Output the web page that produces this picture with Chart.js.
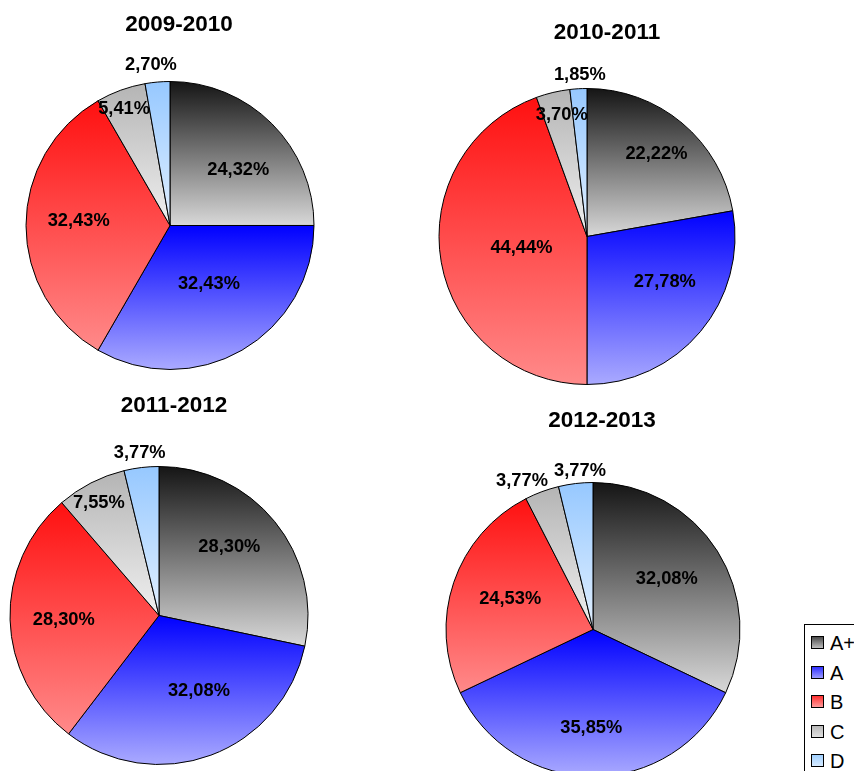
<!DOCTYPE html>
<html>
<head>
<meta charset="utf-8">
<script src="https://cdn.jsdelivr.net/npm/chart.js@4.4.0/dist/chart.umd.min.js"></script>
<style>
  html, body { margin: 0; padding: 0; background: #fff; }
  body { width: 854px; height: 771px; overflow: hidden; position: relative; font-family: "Liberation Sans", Arial, sans-serif; }
  canvas { position: absolute; }
  .title { position: absolute; font-weight: bold; font-size: 22.5px; color: #000; transform: translate(-50%, -50%); white-space: nowrap; }
  .legend { position: absolute; left: 804px; top: 624px; width: 70px; height: 160px; border: 1px solid #000; background: #fff; }
  .legend .item { position: absolute; left: 6px; height: 22px; font-size: 20px; line-height: 22px; color: #000; }
  .legend .sw { display: inline-block; width: 11px; height: 11px; border: 1px solid #000; vertical-align: middle; margin-right: 6px; position: relative; top: -2px; }
</style>
</head>
<body>
<script>
// data
const categories = ['A+', 'A', 'B', 'C', 'D']
const seasons = ['2009-2010', '2010-2011', '2011-2012', '2012-2013']
const values2009 = [24.32, 32.43, 32.43, 5.41, 2.70]
const values2010 = [22.22, 27.78, 44.44, 3.70, 1.85]
const values2011 = [28.30, 32.08, 28.30, 7.55, 3.77]
const values2012 = [32.08, 35.85, 24.53, 3.77, 3.77]

// slice gradient colours (top -> bottom)
const topColors = ['#151515', '#0000ff', '#ff1010', '#b4b4b4', '#96c8ff']
const bottomColors = ['#d8d8d8', '#aaaaff', '#ff8a8a', '#f0f0f0', '#e2f0ff']
const swatchTop = ['#4a4a4a', '#3030ff', '#ff3030', '#b8b8b8', '#a0d0ff']
const swatchBottom = ['#bdbdbd', '#9a9aff', '#ff9a9a', '#e0e0e0', '#d6eaff']

// layout per pie: centre, radius, title centre, label distance (fraction of radius) and angle shift (deg)
const pies = [
    { values: values2009, cx: 170, cy: 225, r: 144, tx: 179, ty: 24,
      labelR: [0.61, 0.49, 0.635, 0.87, 1.12], labelShift: [6, -3.5, 2.8, -1.5, -1.8] },
    { values: values2010, cx: 587, cy: 236, r: 148, tx: 607, ty: 32,
      labelR: [0.73, 0.61, 0.45, 0.84, 1.095], labelShift: [0, -9.6, 0, 1.6, 0.8] },
    { values: values2011, cx: 159, cy: 615, r: 149, tx: 174, ty: 405,
      labelR: [0.66, 0.575, 0.64, 0.855, 1.10], labelShift: [-5.3, -7.4, -1.1, -1, 0] },
    { values: values2012, cx: 593, cy: 629, r: 147, tx: 602, ty: 420,
      labelR: [0.607, 0.667, 0.60, 1.12, 1.085], labelShift: [-2, 1, 1.4, -5.2, 2.1] }
]

const fmt = v => v.toFixed(2).replace('.', ',') + '%'

const gradientPlugin = {
    id: 'sliceGradient',
    beforeDatasetsDraw(chart) {
        const ctx = chart.ctx
        chart.getDatasetMeta(0).data.forEach((arc, i) => {
            const p = arc.getProps(['x', 'y', 'startAngle', 'endAngle', 'outerRadius'], true)
            let top = p.y, bottom = p.y
            ;[p.startAngle, p.endAngle].forEach(a => {
                const py = p.y + p.outerRadius * Math.sin(a)
                top = Math.min(top, py)
                bottom = Math.max(bottom, py)
            })
            for (let k = -2; k <= 2; k++) {
                const up = -Math.PI / 2 + 2 * k * Math.PI
                const down = Math.PI / 2 + 2 * k * Math.PI
                if (up >= p.startAngle && up <= p.endAngle) top = p.y - p.outerRadius
                if (down >= p.startAngle && down <= p.endAngle) bottom = p.y + p.outerRadius
            }
            const g = ctx.createLinearGradient(0, top, 0, bottom)
            g.addColorStop(0, topColors[i])
            g.addColorStop(1, bottomColors[i])
            arc.options = Object.assign({}, arc.options, { backgroundColor: g })
        })
    }
}

const labelPlugin = {
    id: 'sliceLabels',
    afterDatasetsDraw(chart, args, opts) {
        const ctx = chart.ctx
        const data = chart.data.datasets[0].data
        ctx.save()
        ctx.font = 'bold 18.3px "Liberation Sans", Arial, sans-serif'
        ctx.fillStyle = '#000'
        ctx.textAlign = 'center'
        ctx.textBaseline = 'middle'
        chart.getDatasetMeta(0).data.forEach((arc, i) => {
            const p = arc.getProps(['x', 'y', 'startAngle', 'endAngle', 'outerRadius'], true)
            const mid = (p.startAngle + p.endAngle) / 2 + opts.labelShift[i] * Math.PI / 180
            const d = p.outerRadius * opts.labelR[i]
            ctx.fillText(fmt(data[i]), p.x + d * Math.cos(mid), p.y + d * Math.sin(mid))
        })
        ctx.restore()
    }
}

pies.forEach((pie, n) => {
    const padTop = 60, padBottom = 10, half = 200
    const canvas = document.createElement('canvas')
    const w = half * 2
    const h = pie.r * 2 + 1 + padTop + padBottom
    canvas.width = w
    canvas.height = h
    canvas.style.width = w + 'px'
    canvas.style.height = h + 'px'
    canvas.style.left = (pie.cx - half) + 'px'
    canvas.style.top = (pie.cy - pie.r - padTop) + 'px'
    document.body.appendChild(canvas)

    const title = document.createElement('div')
    title.className = 'title'
    title.textContent = seasons[n]
    title.style.left = pie.tx + 'px'
    title.style.top = pie.ty + 'px'
    document.body.appendChild(title)

    const side = half - pie.r - 0.5
    new Chart(canvas, {
        type: 'pie',
        data: {
            labels: categories,
            datasets: [{
                data: pie.values,
                backgroundColor: topColors,
                borderColor: '#000',
                borderWidth: 1
            }]
        },
        options: {
            responsive: false,
            animation: false,
            devicePixelRatio: 1,
            layout: { padding: { top: padTop, bottom: padBottom, left: side, right: side } },
            plugins: {
                legend: { display: false },
                tooltip: { enabled: false },
                sliceLabels: { labelR: pie.labelR, labelShift: pie.labelShift }
            }
        },
        plugins: [gradientPlugin, labelPlugin]
    })
})

// legend box, partly cut off at the right edge as in the original
const legend = document.createElement('div')
legend.className = 'legend'
categories.forEach((cat, i) => {
    const item = document.createElement('div')
    item.className = 'item'
    item.style.top = (7 + i * 29.5) + 'px'
    const sw = document.createElement('span')
    sw.className = 'sw'
    sw.style.background = `linear-gradient(${swatchTop[i]}, ${swatchBottom[i]})`
    item.appendChild(sw)
    item.appendChild(document.createTextNode(cat))
    legend.appendChild(item)
})
document.body.appendChild(legend)
</script>
</body>
</html>
